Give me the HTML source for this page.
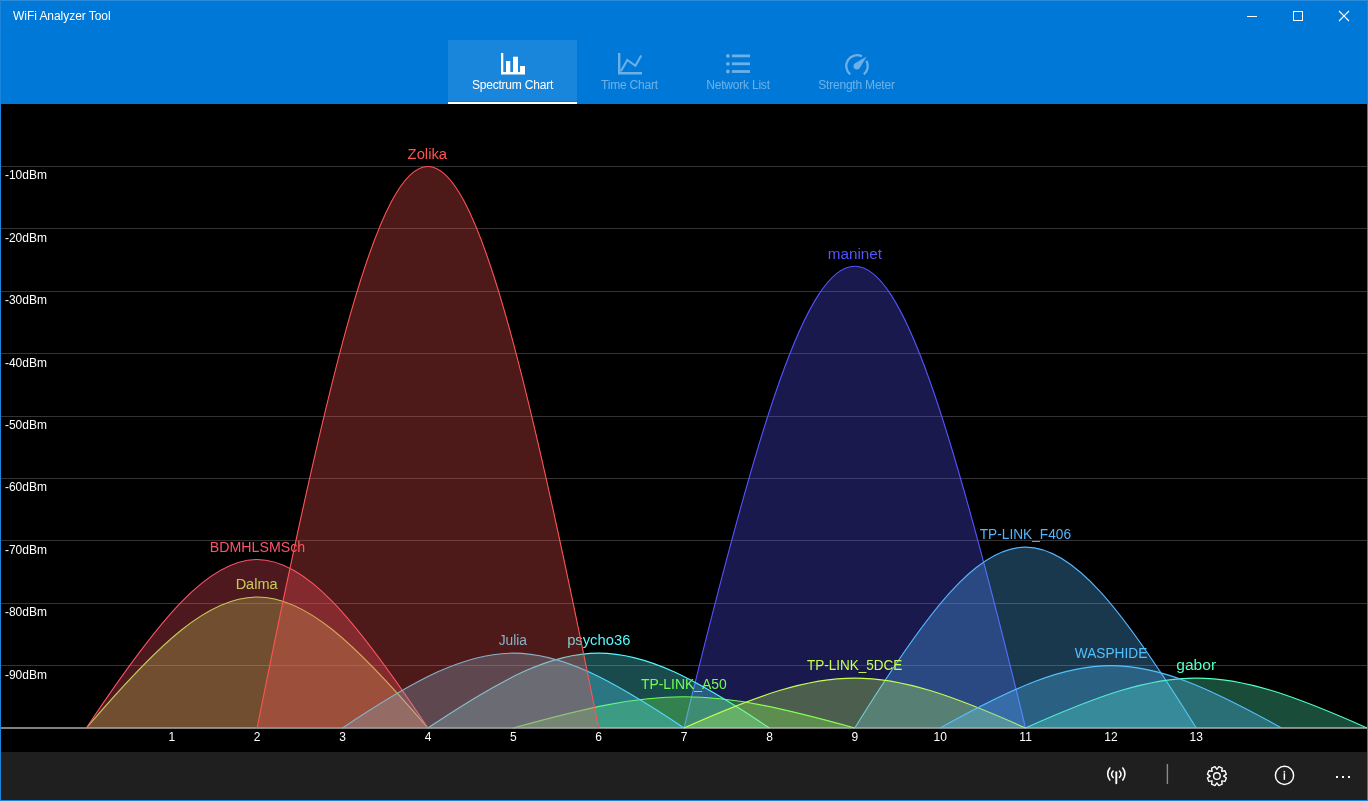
<!DOCTYPE html>
<html lang="en">
<head>
<meta charset="utf-8">
<title>WiFi Analyzer Tool</title>
<style>
html,body{margin:0;padding:0;}
body{width:1368px;height:801px;overflow:hidden;background:#000;font-family:"Liberation Sans",sans-serif;position:relative;}
.header{position:absolute;left:0;top:0;width:1368px;height:104px;background:#0078D7;}
.title{position:absolute;left:13px;top:9px;font-size:12px;line-height:14px;color:#fff;white-space:nowrap;letter-spacing:-0.05px;}
.tab{position:absolute;top:40px;height:64px;color:rgba(255,255,255,0.42);font-size:12px;text-align:center;}
.tab.sel{color:#fff;}
.tab.sel:before{content:"";position:absolute;left:0;right:0;top:0;height:61px;background:#1A86DB;}
.tab.sel:after{content:"";position:absolute;left:0;right:0;bottom:0;height:2px;background:#fff;}
.tab .lbl{position:absolute;left:0;right:0;top:38px;line-height:14px;white-space:nowrap;letter-spacing:-0.2px;}
.ico{position:absolute;left:0;top:0;}
.chart{position:absolute;left:0;top:0;font-family:"Liberation Sans",sans-serif;}
.bottom{position:absolute;left:0;top:752px;width:1368px;height:49px;background:#1F1F1F;}
.topline{position:absolute;left:1px;top:0;width:1366px;height:1px;background:#2B8BDA;}
.frame{position:absolute;left:0;top:0;width:1366px;height:799px;border:1px solid #1A85DA;pointer-events:none;}
</style>
</head>
<body>
<svg class="chart" width="1368" height="801" viewBox="0 0 1368 801">
<rect x="1" y="166" width="1366" height="1" fill="#343434"/>
<rect x="1" y="228" width="1366" height="1" fill="#343434"/>
<rect x="1" y="291" width="1366" height="1" fill="#343434"/>
<rect x="1" y="353" width="1366" height="1" fill="#343434"/>
<rect x="1" y="416" width="1366" height="1" fill="#343434"/>
<rect x="1" y="478" width="1366" height="1" fill="#343434"/>
<rect x="1" y="540" width="1366" height="1" fill="#343434"/>
<rect x="1" y="603" width="1366" height="1" fill="#343434"/>
<rect x="1" y="665" width="1366" height="1" fill="#343434"/>
<rect x="1" y="727.0" width="1366" height="2" fill="#808080"/>
<g fill="#5353FF" stroke="#5353FF">
<path d="M684.00,728.0 C833.41,112.4 876.09,112.4 1025.50,728.0 Z" fill-opacity="0.3" stroke="none"/>
<path d="M684.00,728.0 C833.41,112.4 876.09,112.4 1025.50,728.0" fill="none" stroke-width="1.1"/>
<text transform="translate(827.77,259) scale(0.9852,1)" stroke="none" font-size="15.5">maninet</text>
</g>
<g fill="#53FAFF" stroke="#53FAFF">
<path d="M427.88,728.0 C577.28,628.2 619.97,628.2 769.38,728.0 Z" fill-opacity="0.3" stroke="none"/>
<path d="M427.88,728.0 C577.28,628.2 619.97,628.2 769.38,728.0" fill="none" stroke-width="1.1"/>
<text transform="translate(567.15,645) scale(0.9536,1)" stroke="none" font-size="15.5">psycho36</text>
</g>
<g fill="#6EFF53" stroke="#6EFF53">
<path d="M513.25,728.0 C662.66,686.4 705.34,686.4 854.75,728.0 Z" fill-opacity="0.3" stroke="none"/>
<path d="M513.25,728.0 C662.66,686.4 705.34,686.4 854.75,728.0" fill="none" stroke-width="1.1"/>
<text transform="translate(640.94,689) scale(0.8986,1)" stroke="none" font-size="15.5">TP-LINK_A50</text>
</g>
<g fill="#ACFF53" stroke="#ACFF53">
<path d="M86.38,728.0 C235.78,553.3 278.46,553.3 427.88,728.0 Z" fill-opacity="0.3" stroke="none"/>
<path d="M86.38,728.0 C235.78,553.3 278.46,553.3 427.88,728.0" fill="none" stroke-width="1.1"/>
<text transform="translate(235.63,589) scale(0.9379,1)" stroke="none" font-size="15.5">Dalma</text>
</g>
<g fill="#FF5368" stroke="#FF5368">
<path d="M86.38,728.0 C235.78,503.4 278.46,503.4 427.88,728.0 Z" fill-opacity="0.3" stroke="none"/>
<path d="M86.38,728.0 C235.78,503.4 278.46,503.4 427.88,728.0" fill="none" stroke-width="1.1"/>
<text transform="translate(209.70,552) scale(0.9166,1)" stroke="none" font-size="15.5">BDMHLSMSch</text>
</g>
<g fill="#53DBFF" stroke="#53DBFF">
<path d="M342.50,728.0 C491.91,628.2 534.59,628.2 684.00,728.0 Z" fill-opacity="0.3" stroke="none"/>
<path d="M342.50,728.0 C491.91,628.2 534.59,628.2 684.00,728.0" fill="none" stroke-width="1.1"/>
<text transform="translate(498.68,645) scale(0.8892,1)" stroke="none" font-size="15.5">Julia</text>
</g>
<g fill="#FF5353" stroke="#FF5353">
<path d="M257.12,728.0 C406.54,-20.7 449.21,-20.7 598.62,728.0 Z" fill-opacity="0.3" stroke="none"/>
<path d="M257.12,728.0 C406.54,-20.7 449.21,-20.7 598.62,728.0" fill="none" stroke-width="1.1"/>
<text transform="translate(407.62,159) scale(0.9547,1)" stroke="none" font-size="15.5">Zolika</text>
</g>
<g fill="#53B5FF" stroke="#53B5FF">
<path d="M854.75,728.0 C1004.16,486.8 1046.84,486.8 1196.25,728.0 Z" fill-opacity="0.3" stroke="none"/>
<path d="M854.75,728.0 C1004.16,486.8 1046.84,486.8 1196.25,728.0" fill="none" stroke-width="1.1"/>
<text transform="translate(979.74,539) scale(0.8837,1)" stroke="none" font-size="15.5">TP-LINK_F406</text>
</g>
<g fill="#C5FF53" stroke="#C5FF53">
<path d="M684.00,728.0 C833.41,661.5 876.09,661.5 1025.50,728.0 Z" fill-opacity="0.3" stroke="none"/>
<path d="M684.00,728.0 C833.41,661.5 876.09,661.5 1025.50,728.0" fill="none" stroke-width="1.1"/>
<text transform="translate(806.89,670) scale(0.8722,1)" stroke="none" font-size="15.5">TP-LINK_5DCE</text>
</g>
<g fill="#53FFC1" stroke="#53FFC1">
<path d="M1025.50,728.0 C1174.91,661.5 1217.59,661.5 1367.00,728.0 Z" fill-opacity="0.3" stroke="none"/>
<path d="M1025.50,728.0 C1174.91,661.5 1217.59,661.5 1367.00,728.0" fill="none" stroke-width="1.1"/>
<text transform="translate(1176.25,670) scale(1.0065,1)" stroke="none" font-size="15.5">gabor</text>
</g>
<g fill="#53C0FF" stroke="#53C0FF">
<path d="M940.12,728.0 C1089.54,644.8 1132.21,644.8 1281.62,728.0 Z" fill-opacity="0.3" stroke="none"/>
<path d="M940.12,728.0 C1089.54,644.8 1132.21,644.8 1281.62,728.0" fill="none" stroke-width="1.1"/>
<text transform="translate(1074.81,658) scale(0.8831,1)" stroke="none" font-size="15.5">WASPHIDE</text>
</g>
<text x="4.95" y="179" fill="#fff" font-size="12" textLength="41.97" lengthAdjust="spacingAndGlyphs">-10dBm</text>
<text x="4.95" y="242" fill="#fff" font-size="12" textLength="41.97" lengthAdjust="spacingAndGlyphs">-20dBm</text>
<text x="4.95" y="304" fill="#fff" font-size="12" textLength="41.97" lengthAdjust="spacingAndGlyphs">-30dBm</text>
<text x="4.95" y="367" fill="#fff" font-size="12" textLength="41.97" lengthAdjust="spacingAndGlyphs">-40dBm</text>
<text x="4.95" y="429" fill="#fff" font-size="12" textLength="41.97" lengthAdjust="spacingAndGlyphs">-50dBm</text>
<text x="4.95" y="491" fill="#fff" font-size="12" textLength="41.97" lengthAdjust="spacingAndGlyphs">-60dBm</text>
<text x="4.95" y="554" fill="#fff" font-size="12" textLength="41.97" lengthAdjust="spacingAndGlyphs">-70dBm</text>
<text x="4.95" y="616" fill="#fff" font-size="12" textLength="41.97" lengthAdjust="spacingAndGlyphs">-80dBm</text>
<text x="4.95" y="679" fill="#fff" font-size="12" textLength="41.97" lengthAdjust="spacingAndGlyphs">-90dBm</text>
<text x="171.8" y="741" fill="#fff" font-size="12" text-anchor="middle">1</text>
<text x="257.2" y="741" fill="#fff" font-size="12" text-anchor="middle">2</text>
<text x="342.6" y="741" fill="#fff" font-size="12" text-anchor="middle">3</text>
<text x="428.0" y="741" fill="#fff" font-size="12" text-anchor="middle">4</text>
<text x="513.4" y="741" fill="#fff" font-size="12" text-anchor="middle">5</text>
<text x="598.7" y="741" fill="#fff" font-size="12" text-anchor="middle">6</text>
<text x="684.1" y="741" fill="#fff" font-size="12" text-anchor="middle">7</text>
<text x="769.5" y="741" fill="#fff" font-size="12" text-anchor="middle">8</text>
<text x="854.9" y="741" fill="#fff" font-size="12" text-anchor="middle">9</text>
<text x="940.2" y="741" fill="#fff" font-size="12" text-anchor="middle">10</text>
<text x="1025.6" y="741" fill="#fff" font-size="12" text-anchor="middle">11</text>
<text x="1111.0" y="741" fill="#fff" font-size="12" text-anchor="middle">12</text>
<text x="1196.3" y="741" fill="#fff" font-size="12" text-anchor="middle">13</text>
</svg>
<div class="header">
  <div class="title">WiFi Analyzer Tool</div>
  <div class="tab sel" style="left:448px;width:129px;"><div class="lbl">Spectrum Chart</div></div>
  <div class="tab" style="left:577px;width:105px;"><div class="lbl">Time Chart</div></div>
  <div class="tab" style="left:682px;width:112px;"><div class="lbl">Network List</div></div>
  <div class="tab" style="left:794px;width:125px;"><div class="lbl">Strength Meter</div></div>
</div>
<div class="bottom"></div>
<svg class="ico" width="1368" height="801" viewBox="0 0 1368 801">
  <!-- window controls -->
  <g stroke="#fff" stroke-width="1" fill="none">
    <path d="M1247,16.5 H1257"/>
    <rect x="1293.5" y="11.5" width="9" height="9"/>
    <path d="M1339,11 L1349,21 M1349,11 L1339,21" stroke-width="1.1"/>
  </g>
  <!-- spectrum chart icon -->
  <g fill="#fff">
    <path d="M501,53 H503.3 V72 H525 V74.6 H501 Z"/>
    <rect x="506" y="61" width="4.3" height="11"/>
    <rect x="513" y="56.7" width="5" height="15.3"/>
    <rect x="520" y="66" width="5" height="6"/>
  </g>
  <!-- time chart icon -->
  <g opacity="0.42">
    <path d="M618,53 H620.4 V72 H642 V74.6 H618 Z" fill="#fff"/>
    <path d="M620.9,71.3 L627.3,60 L635.4,65.8 L641.2,55.6" fill="none" stroke="#fff" stroke-width="2.1" stroke-linecap="butt" stroke-linejoin="miter"/>
  </g>
  <!-- network list icon -->
  <g fill="#fff" fill-opacity="0.42">
    <circle cx="727.9" cy="55.9" r="1.9"/><rect x="731.9" y="54.5" width="18.1" height="2.8"/>
    <circle cx="727.9" cy="63.8" r="1.9"/><rect x="731.9" y="62.4" width="18.1" height="2.8"/>
    <circle cx="727.9" cy="71.5" r="1.9"/><rect x="731.9" y="70.1" width="18.1" height="2.8"/>
  </g>
  <!-- strength meter icon -->
  <path d="M850.20,74.39 A10.8,10.8 0 0 1 861.90,56.38 M866.45,60.76 A10.8,10.8 0 0 1 863.80,74.39" fill="none" stroke="#fff" stroke-opacity="0.42" stroke-width="2.3"/>
  <path d="M866.60,56.40 L859.72,67.94 A3.4,3.4 0 1 1 855.06,63.28 Z" fill="#fff" fill-opacity="0.42"/>
  <!-- bottom bar icons -->
  <g fill="none" stroke="#fff" stroke-width="1.6" stroke-linecap="round">
    <path d="M1116.3,772.3 V783.2" stroke-width="1.9"/>
    <path d="M1109.8,768 A9.7,9.7 0 0 0 1109.8,780"/>
    <path d="M1122.8,768 A9.7,9.7 0 0 1 1122.8,780"/>
    <path d="M1113.1,771.1 A4,4 0 0 0 1113.1,777.4"/>
    <path d="M1119.5,771.1 A4,4 0 0 1 1119.5,777.4"/>
  </g>
  <rect x="1166.7" y="764" width="1.4" height="20" fill="#8a8a8a"/>
  <g transform="translate(1204.9,764.1)" fill="none" stroke="#fff" stroke-width="1.35" stroke-linejoin="round">
    <path d="M12.00,5.25 L13.94,2.55 L17.32,3.95 L16.77,7.23 L20.05,6.68 L21.45,10.06 L18.75,12.00 L21.45,13.94 L20.05,17.32 L16.77,16.77 L17.32,20.05 L13.94,21.45 L12.00,18.75 L10.06,21.45 L6.68,20.05 L7.23,16.77 L3.95,17.32 L2.55,13.94 L5.25,12.00 L2.55,10.06 L3.95,6.68 L7.23,7.23 L6.68,3.95 L10.06,2.55 Z"/>
    <circle cx="12" cy="12" r="3.3"/>
  </g>
  <circle cx="1284.5" cy="775.4" r="9.1" fill="none" stroke="#fff" stroke-width="1.45"/>
  <rect x="1283.6" y="773.2" width="1.5" height="6.6" fill="#fff"/>
  <rect x="1283.6" y="770.9" width="1.5" height="1.6" fill="#fff"/>
  <rect x="1336" y="776" width="2" height="2" fill="#fff"/>
  <rect x="1342" y="776" width="2" height="2" fill="#fff"/>
  <rect x="1348" y="776" width="2" height="2" fill="#fff"/>
</svg>
<div class="frame"></div>
<div class="topline"></div>
</body>
</html>
